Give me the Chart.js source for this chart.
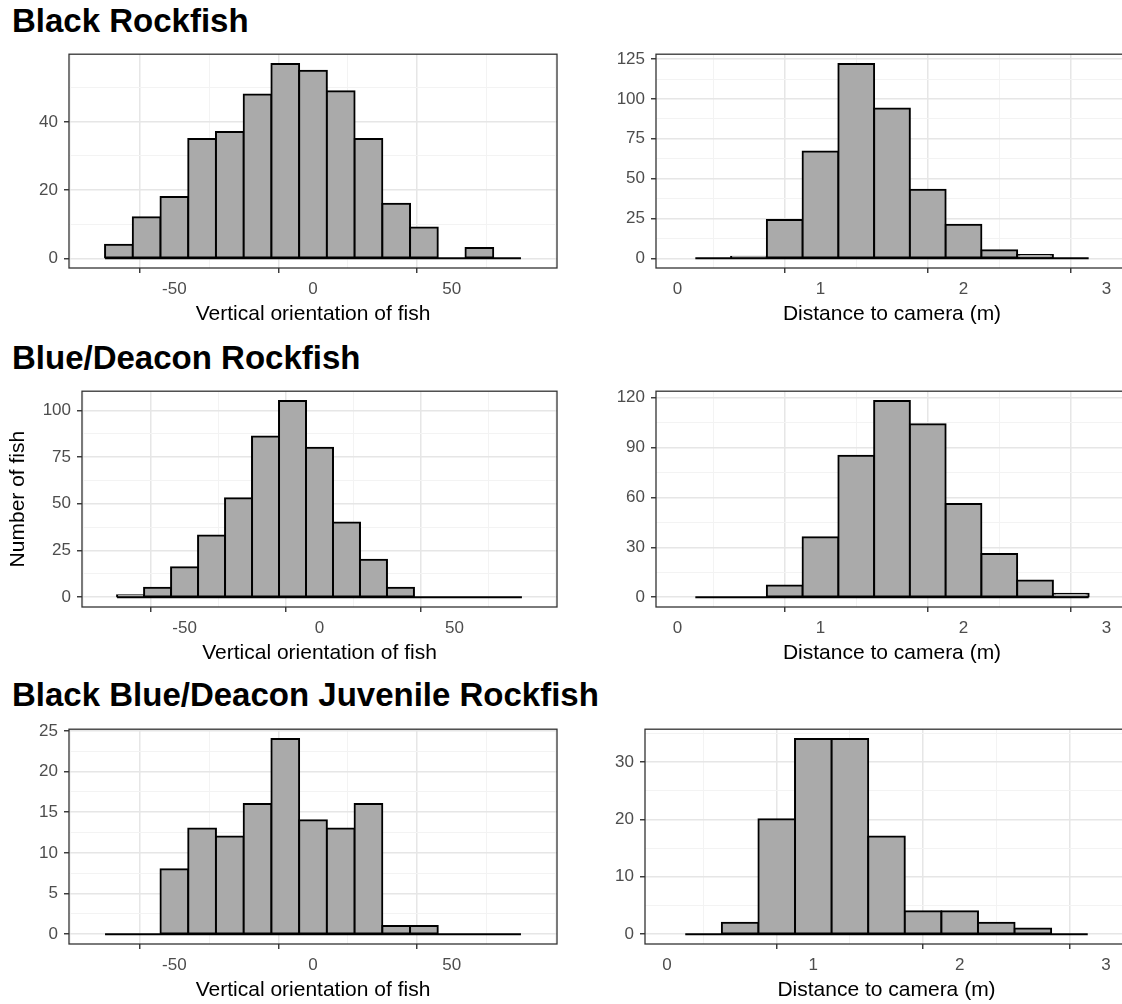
<!DOCTYPE html>
<html>
<head>
<meta charset="utf-8">
<script src="https://cdn.jsdelivr.net/npm/chart.js@4.4.1/dist/chart.umd.min.js"></script>
<style>
  html, body { margin: 0; padding: 0; background: #fff; overflow: hidden; width: 1122px; height: 1004px; }
  .title { position: absolute; left: 12px; font: bold 33px/33px 'Liberation Sans', Arial, sans-serif; color: #000; white-space: nowrap; }
  canvas { position: absolute; }
</style>
</head>
<body>
<div class="title" style="top:4px">Black Rockfish</div>
<div class="title" style="top:341px">Blue/Deacon Rockfish</div>
<div class="title" style="top:678px">Black Blue/Deacon Juvenile Rockfish</div>
<script>
// Histogram bin centres
const orientBins = [-70, -60, -50, -40, -30, -20, -10, 0, 10, 20, 30, 40, 50, 60, 70];
const distBins = [0.25, 0.5, 0.75, 1, 1.25, 1.5, 1.75, 2, 2.25, 2.5, 2.75];
const orientBinWidth = 10;
const distBinWidth = 0.25;

// Counts per bin
const blackOrient = [4, 12, 18, 35, 37, 48, 57, 55, 49, 35, 16, 9, 0, 3, 0];
const blackDist = [0, 1, 24, 67, 122, 94, 43, 21, 5, 2, 0];
const blueOrient = [1, 5, 16, 33, 53, 86, 105, 80, 40, 20, 5, 0, 0, 0, 0];
const blueDist = [0, 0, 7, 36, 85, 118, 104, 56, 26, 10, 2];
const juvOrient = [0, 0, 8, 13, 12, 16, 24, 14, 13, 16, 1, 1, 0, 0, 0];
const juvDist = [0, 2, 20, 34, 34, 17, 4, 4, 2, 1, 0];

// Axis limits and tick spacing
const orientLimits = [-80, 80];
const distLimits = [0, 3];
const orientTickStep = 50;
const distTickStep = 1;
const countTickSteps = [20, 25, 25, 30, 5, 10];

const orientTitle = 'Vertical orientation of fish';
const distTitle = 'Distance to camera (m)';
const countTitle = 'Number of fish';

Chart.defaults.font.family = "'Liberation Sans', Arial, sans-serif";

const PAD_T = 10, PAD_R = 10, X_H = 62;

const panels = [
  { bins: orientBins, bw: orientBinWidth, counts: blackOrient, lim: orientLimits, xstep: orientTickStep, ystep: countTickSteps[0], xTitle: orientTitle, area: { l: 69, r: 557, t: 48, b: 268 } },
  { bins: distBins, bw: distBinWidth, counts: blackDist, lim: distLimits, xstep: distTickStep, ystep: countTickSteps[1], xTitle: distTitle, area: { l: 656, r: 1128, t: 48, b: 268 } },
  { bins: orientBins, bw: orientBinWidth, counts: blueOrient, lim: orientLimits, xstep: orientTickStep, ystep: countTickSteps[2], xTitle: orientTitle, yTitle: countTitle, area: { l: 82, r: 557, t: 385, b: 607 } },
  { bins: distBins, bw: distBinWidth, counts: blueDist, lim: distLimits, xstep: distTickStep, ystep: countTickSteps[3], xTitle: distTitle, area: { l: 656, r: 1128, t: 385, b: 607 } },
  { bins: orientBins, bw: orientBinWidth, counts: juvOrient, lim: orientLimits, xstep: orientTickStep, ystep: countTickSteps[4], xTitle: orientTitle, area: { l: 69, r: 557, t: 723, b: 944 } },
  { bins: distBins, bw: distBinWidth, counts: juvDist, lim: distLimits, xstep: distTickStep, ystep: countTickSteps[5], xTitle: distTitle, area: { l: 645, r: 1128, t: 723, b: 944 } }
];

// ticks every half step: majors get labels and tick marks, the rest are minor grid lines
function halfStepTicks(min, max, step) {
  const half = step / 2;
  const out = [];
  for (let k = Math.ceil(min / half - 1e-9); k * half <= max + 1e-9; k++) out.push({ value: k * half });
  return out;
}
const isMajor = (v, step) => Math.abs(v / step - Math.round(v / step)) < 1e-6;

// ggplot-style panel border drawn over the bars
const panelFrame = {
  id: 'panelFrame',
  afterDatasetsDraw(chart) {
    const { ctx, chartArea: a } = chart;
    ctx.save();
    ctx.strokeStyle = '#333333';
    ctx.lineWidth = 1.3;
    ctx.strokeRect(a.left, a.top, a.right - a.left, a.bottom - a.top);
    ctx.restore();
  }
};

function gridOpts(step) {
  return {
    drawTicks: true,
    tickLength: 5,
    color: c => (c.tick && isMajor(c.tick.value, step)) ? '#e6e6e6' : '#f3f3f3',
    lineWidth: c => (c.tick && isMajor(c.tick.value, step)) ? 1.5 : 1,
    tickColor: c => (c.tick && isMajor(c.tick.value, step)) ? '#333333' : 'rgba(0,0,0,0)',
    tickWidth: 1.4
  };
}

function drawPanel(p) {
  const yw = p.area.l;
  const left = 0;
  const top = p.area.t - PAD_T;
  const width = p.area.r + PAD_R - left;
  const height = PAD_T + (p.area.b - p.area.t) + X_H;
  const canvas = document.createElement('canvas');
  canvas.width = width;
  canvas.height = height;
  canvas.style.left = left + 'px';
  canvas.style.top = top + 'px';
  canvas.style.width = width + 'px';
  canvas.style.height = height + 'px';
  document.body.appendChild(canvas);

  const xr = p.lim[1] - p.lim[0];
  const xmin = p.lim[0] - 0.05 * xr, xmax = p.lim[1] + 0.05 * xr;
  const ymaxData = Math.max(...p.counts);
  const ymin = -0.05 * ymaxData, ymax = 1.05 * ymaxData;
  const firstEdge = p.bins[0] - p.bw / 2;
  const lastEdge = p.bins[p.bins.length - 1] + p.bw / 2;

  new Chart(canvas, {
    type: 'bar',
    data: {
      datasets: [
        {
          type: 'bar',
          data: p.bins.map((x, i) => ({ x, y: p.counts[i] })),
          backgroundColor: '#aaaaaa',
          borderColor: '#000000',
          borderWidth: 2,
          borderSkipped: false,
          inflateAmount: 1,
          categoryPercentage: 1,
          barPercentage: 1,
          order: 1
        },
        {
          type: 'line',
          data: [{ x: firstEdge, y: 0 }, { x: lastEdge, y: 0 }],
          borderColor: '#000000',
          borderWidth: 2,
          pointRadius: 0,
          order: 0
        }
      ]
    },
    options: {
      responsive: false,
      animation: false,
      events: [],
      layout: { padding: { top: PAD_T, right: PAD_R, left: 0, bottom: 0 } },
      plugins: { legend: { display: false }, tooltip: { enabled: false } },
      scales: {
        x: {
          type: 'linear',
          min: xmin, max: xmax,
          offset: false,
          bounds: 'data',
          afterBuildTicks: s => { s.ticks = halfStepTicks(xmin, xmax, p.xstep); },
          afterFit: s => { s.height = X_H; },
          ticks: {
            autoSkip: false, maxRotation: 0, padding: 6, color: '#4d4d4d', font: { size: 17 },
            callback: v => isMajor(v, p.xstep) ? String(Math.round(v)) : ''
          },
          grid: gridOpts(p.xstep),
          border: { display: false },
          title: { display: true, text: p.xTitle, color: '#000', font: { size: 21 }, padding: { top: 0, bottom: 3.4 } }
        },
        y: {
          type: 'linear',
          min: ymin, max: ymax,
          beginAtZero: false,
          afterBuildTicks: s => { s.ticks = halfStepTicks(ymin, ymax, p.ystep); },
          afterFit: s => { s.width = yw; },
          ticks: {
            autoSkip: false, padding: 6, color: '#4d4d4d', font: { size: 17 },
            callback: v => isMajor(v, p.ystep) ? String(Math.round(v)) : ''
          },
          grid: gridOpts(p.ystep),
          border: { display: false },
          title: { display: !!p.yTitle, text: p.yTitle || '', color: '#000', font: { size: 21 }, padding: { top: 5.4, bottom: 0 } }
        }
      }
    },
    plugins: [panelFrame]
  });
}

panels.forEach(drawPanel);
</script>
</body>
</html>
